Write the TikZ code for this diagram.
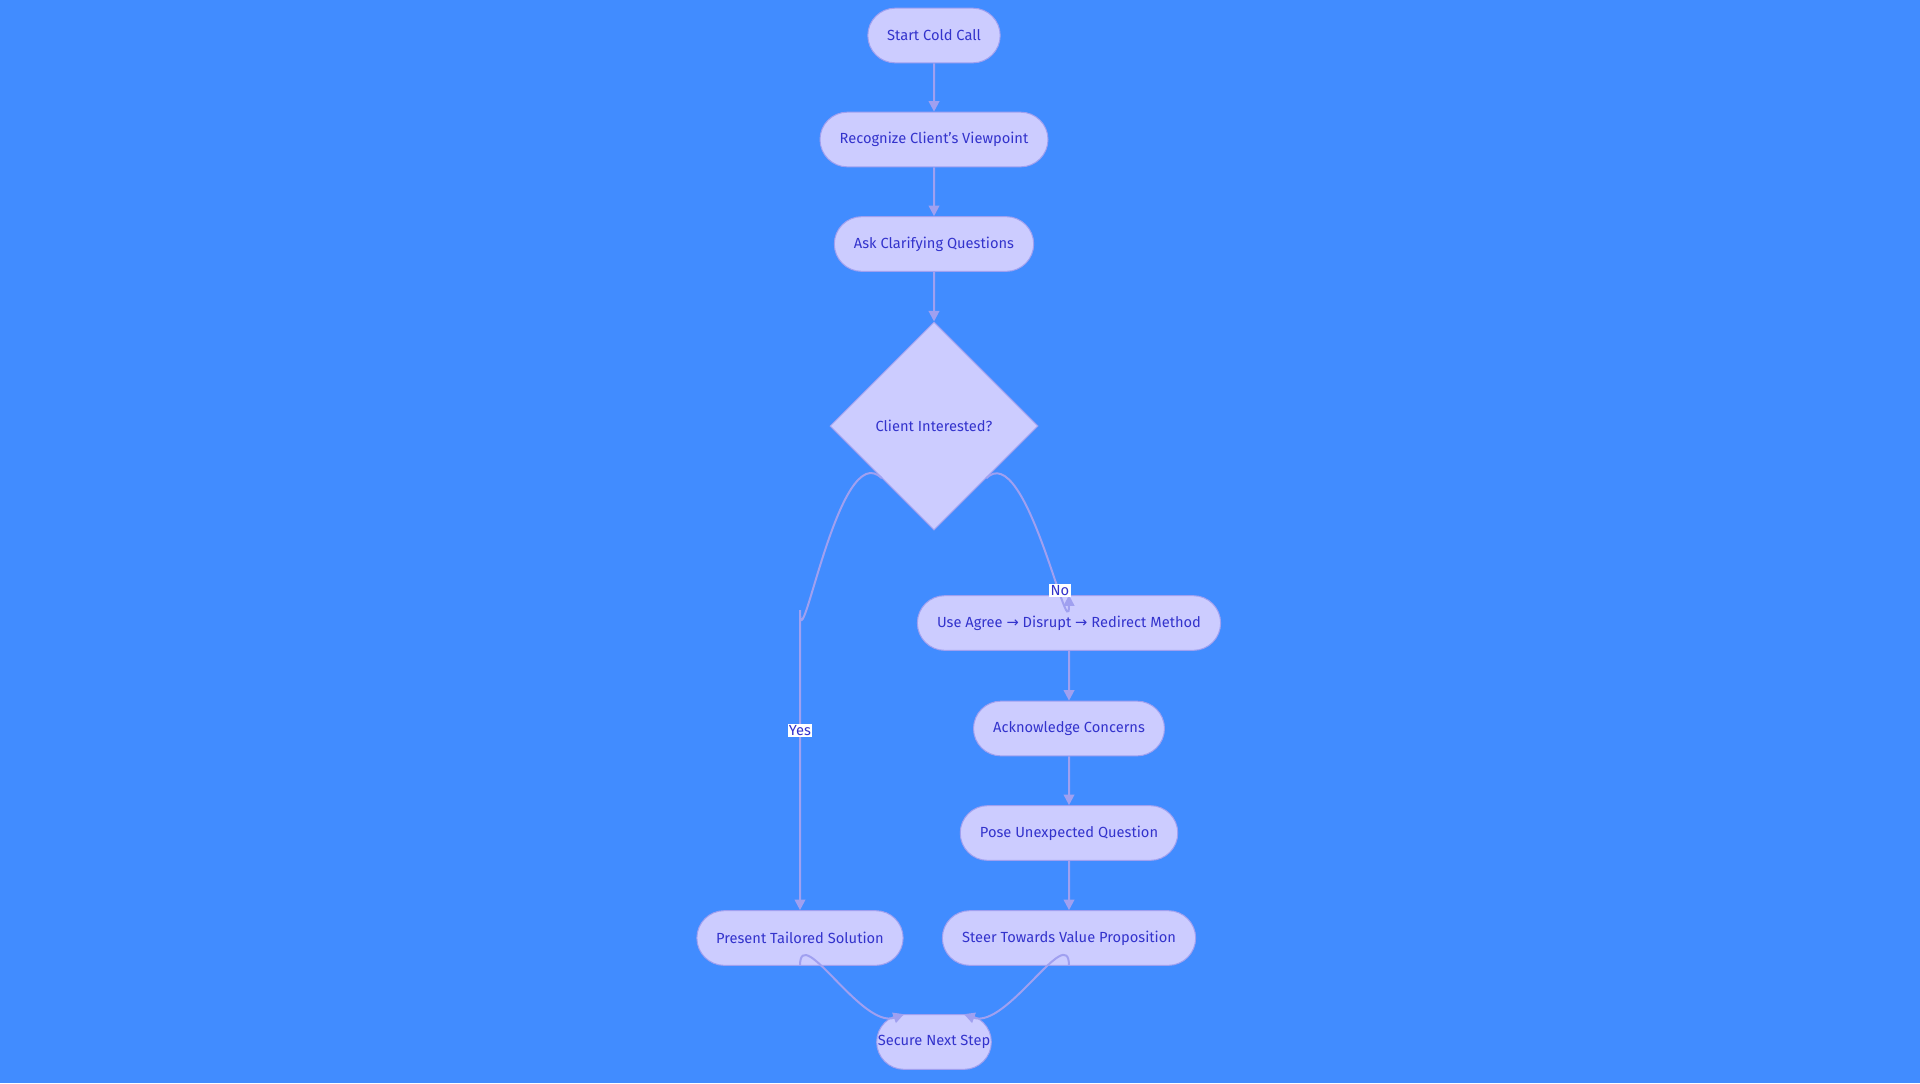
\documentclass[tikz,border=0pt]{standalone}
\usepackage{fontspec}
\setmainfont{Fira Sans}
\newfontfamily\arrowfont{DejaVu Sans}
\usetikzlibrary{arrows.meta,shapes.geometric,shapes.misc}
\definecolor{bgblue}{RGB}{65,140,255}
\definecolor{boxfill}{RGB}{204,204,255}
\definecolor{boxline}{RGB}{160,160,240}
\definecolor{txtblue}{RGB}{51,51,204}
\tikzset{every picture/.style={line width=0.75pt}}
\tikzset{
  stepbox/.style={rounded rectangle, draw=boxline, fill=boxfill, text=txtblue, font=\fontsize{11}{13}\selectfont, minimum height=41pt, inner xsep=14pt},
  choice/.style={diamond, draw=boxline, fill=boxfill, text=txtblue, font=\fontsize{11}{13}\selectfont, minimum width=156pt, minimum height=156pt, inner sep=0pt},
  edge/.style={draw=boxline, line width=1.5pt, -{Triangle[length=8pt,width=8pt]}},
  lbl/.style={fill=white, text=txtblue, inner sep=1pt, font=\fontsize{11}{13}\selectfont}
}
\begin{document}
\begin{tikzpicture}[x=0.75pt,y=0.75pt,yscale=-1,xscale=1]
\fill[bgblue] (0,0) rectangle (1920,1083);
\useasboundingbox (0,0) rectangle (1920,1083);

% Nodes
\node[stepbox, minimum width=98pt] (start) at (934,35.5) {Start Cold Call};
\node[stepbox, minimum width=164pt] (recog) at (934,139.5) {Recognize Client’s Viewpoint};
\node[stepbox, minimum width=143pt] (ask) at (934,244) {Ask Clarifying Questions};
\node[choice] (interest) at (934,426) {Client Interested?};
\node[stepbox, minimum width=222pt] (agree) at (1069,623) {Use Agree {\arrowfont →} Disrupt {\arrowfont →} Redirect Method};
\node[stepbox, minimum width=142pt] (ack) at (1069,728.5) {Acknowledge Concerns};
\node[stepbox, minimum width=158pt] (pose) at (1069,833) {Pose Unexpected Question};
\node[stepbox, minimum width=181pt] (steer) at (1069,938) {Steer Towards Value Proposition};
\node[stepbox, minimum width=147pt] (present) at (800,938) {Present Tailored Solution};
\node[stepbox, minimum width=114pt] (secure) at (934,1042) {Secure Next Step};
\coordinate (ybend) at (800,610);

% Connectors
\draw[edge] (start) -- (recog);
\draw[edge] (recog) -- (ask);
\draw[edge] (ask) -- (interest);
\draw[edge] (interest.south west) to[out=-135,in=90] (ybend) -- node[lbl, pos=0.4] {Yes} (present.north);
\draw[edge] (interest.south east) to[out=-45,in=90] node[lbl, pos=0.72] {No} (agree.north);
\draw[edge] (agree) -- (ack);
\draw[edge] (ack) -- (pose);
\draw[edge] (pose) -- (steer);
\draw[edge] (present.south) to[out=-90,in=160] (secure.north west);
\draw[edge] (steer.south) to[out=-90,in=20] (secure.north east);

\end{tikzpicture}
\end{document}
